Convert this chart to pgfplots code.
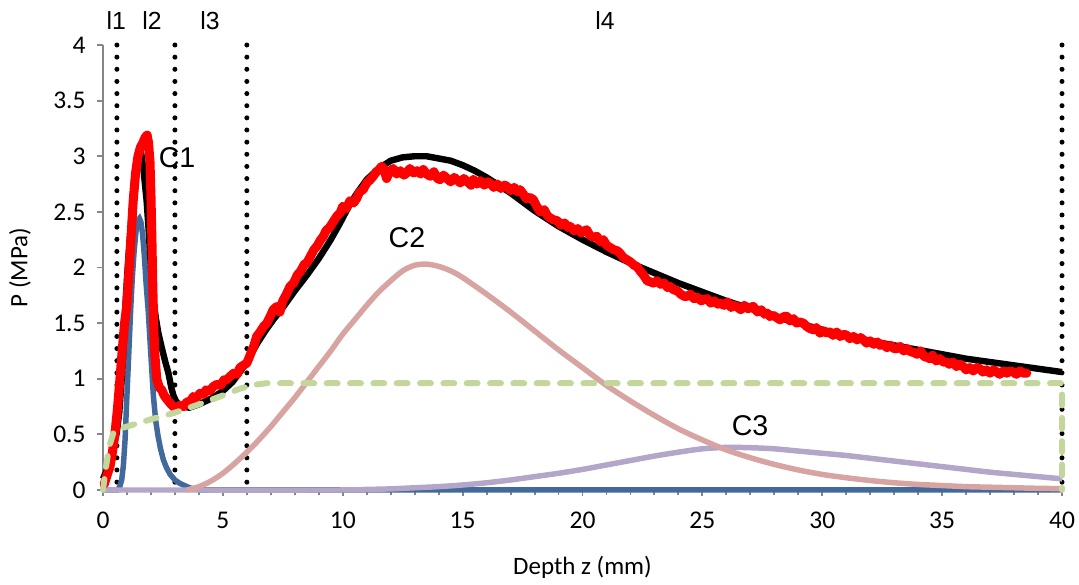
\documentclass[border=0pt]{standalone}
\usepackage{fontspec}
\setmainfont{Carlito}
\newfontfamily\arial{Liberation Sans}
\usepackage{pgfplots}
\pgfplotsset{compat=1.18}
\usetikzlibrary{calc}
\definecolor{axgray}{HTML}{868686}
\definecolor{cblue}{HTML}{41699C}
\definecolor{cpink}{HTML}{D7A4A2}
\definecolor{cpurple}{HTML}{B3A6C8}
\definecolor{cgreen}{HTML}{C3D69B}
\definecolor{cred}{HTML}{FF0000}
\begin{document}
\begin{tikzpicture}
\begin{axis}[name=ax, scale only axis, width=402.8pt, height=186.9pt,
  xmin=0, xmax=40, ymin=0, ymax=4,
  axis x line*=bottom, axis y line*=left,
  axis line style={-, draw=axgray, line width=0.8pt},
  xtick={0,5,...,40}, ytick={0,0.5,...,4}, minor x tick num=4,
  tick align=outside, major tick length=2.6pt, minor tick length=2pt,
  tick style={axgray, line width=0.8pt},
  ticklabel style={font=\fontsize{10.7}{12}\selectfont},
  xticklabel style={yshift=-3.2pt},
  yticklabel style={/pgf/number format/fixed, xshift=-1.2pt},
  /pgf/number format/assume math mode=true,
  xlabel={Depth z (mm)}, ylabel={P (MPa)},
  label style={font=\fontsize{10.5}{12}\selectfont},
  xlabel style={at={(axis description cs:0.5,-0.1728)}, anchor=center},
  ylabel style={at={(axis description cs:-0.0866,0.5)}, anchor=center},
  clip=false]
% dotted boundaries
\addplot[black, line width=2.1pt, line cap=round, dash pattern=on 0pt off 5.1pt] coordinates {(0.58,4) (0.58,0)};
\addplot[black, line width=2.1pt, line cap=round, dash pattern=on 0pt off 5.1pt] coordinates {(3.0,4) (3.0,0)};
\addplot[black, line width=2.1pt, line cap=round, dash pattern=on 0pt off 5.1pt] coordinates {(6.0,4) (6.0,0)};
\addplot[black, line width=2.1pt, line cap=round, dash pattern=on 0pt off 5.1pt] coordinates {(40,4) (40,0)};
% C1
\addplot[cblue, line width=2.3pt] coordinates {(0,0) (0.6,0) (0.7,0.03) (0.78,0.09) (0.85,0.22) (0.92,0.45) (0.99,0.81) (1.06,1.15) (1.15,1.6) (1.22,1.9) (1.3,2.15) (1.38,2.33) (1.45,2.42) (1.52,2.44) (1.58,2.41) (1.65,2.3) (1.72,2.12) (1.8,1.85) (1.89,1.6) (2.0,1.2) (2.1,0.85) (2.2,0.62) (2.3,0.48) (2.4,0.37) (2.52,0.27) (2.65,0.2) (2.8,0.14) (3.0,0.09) (3.2,0.06) (3.4,0.04) (3.6,0.02) (3.8,0.01) (4.1,0) (40,0)};
% C3
\addplot[cpurple, line width=2.3pt, smooth] coordinates {(0,0) (10,0) (11,0.005) (12,0.01) (13,0.02) (14,0.03) (15,0.045) (16,0.065) (17,0.09) (18,0.12) (19,0.15) (20,0.185) (21,0.225) (22,0.265) (23,0.305) (24,0.34) (25,0.37) (26,0.383) (27,0.38) (28,0.37) (29,0.35) (30,0.33) (31,0.31) (32,0.285) (33,0.26) (34,0.235) (35,0.21) (36,0.185) (37,0.16) (38,0.14) (39,0.12) (40,0.1)};
% C2
\addplot[cpink, line width=2.3pt, smooth] coordinates {(3.5,0) (4,0.03) (4.5,0.08) (5,0.15) (5.5,0.24) (6,0.34) (6.5,0.45) (7,0.57) (7.5,0.7) (8,0.83) (8.5,0.97) (9,1.11) (9.5,1.25) (10,1.4) (10.5,1.53) (11,1.66) (11.5,1.78) (12,1.88) (12.5,1.97) (13,2.02) (13.5,2.03) (14,2.01) (14.5,1.97) (15,1.91) (16,1.76) (17,1.6) (18,1.43) (19,1.26) (20,1.1) (21,0.94) (22,0.8) (23,0.67) (24,0.55) (25,0.45) (26,0.36) (27,0.29) (28,0.23) (29,0.18) (30,0.14) (31,0.11) (32,0.085) (33,0.065) (34,0.05) (35,0.04) (36,0.03) (37,0.025) (38,0.02) (39,0.015) (40,0.012)};
% total fit
\addplot[black, line width=2.7pt, line join=round] coordinates {(0,0.1) (0.2,0.2) (0.4,0.37) (0.57,0.51) (0.68,0.7) (0.78,1.0) (0.86,1.3) (0.92,1.6) (1.0,1.9) (1.08,2.15) (1.2,2.5) (1.3,2.78) (1.4,2.97) (1.48,3.04) (1.54,3.05) (1.6,3.02) (1.68,2.9) (1.75,2.75) (1.82,2.6) (1.9,2.35) (2.0,2.0) (2.1,1.72) (2.2,1.55) (2.31,1.41) (2.45,1.28) (2.6,1.15) (2.73,1.05) (2.85,0.92) (2.95,0.84) (3.07,0.79) (3.3,0.75) (3.6,0.74) (4.0,0.77) (4.5,0.82) (5.0,0.89) (5.4,0.97) (5.71,1.06) (6.0,1.15) (6.41,1.31) (6.8,1.44) (7.1,1.53) (7.5,1.64) (8.0,1.79) (8.5,1.93) (9.0,2.08) (9.5,2.25) (9.89,2.4) (10.3,2.57) (10.6,2.67) (11.0,2.79) (11.5,2.89) (12.0,2.96) (12.5,2.99) (13.0,3.0) (13.5,3.0) (14.0,2.98) (14.5,2.96) (15.0,2.92) (15.5,2.87) (16.0,2.81) (16.5,2.74) (17.0,2.67) (17.5,2.59) (18.0,2.51) (18.5,2.44) (19.0,2.37) (19.5,2.31) (20.0,2.25) (21.0,2.14) (22.0,2.04) (23.0,1.95) (24.0,1.86) (25.0,1.78) (26.0,1.7) (27.0,1.63) (28.0,1.56) (29.0,1.5) (30.0,1.44) (31.0,1.39) (32.0,1.34) (33.0,1.3) (34.0,1.26) (35.0,1.22) (36.0,1.18) (37.0,1.15) (38.0,1.12) (39.0,1.09) (40.0,1.06)};
% measured
\addplot[cred, line width=3.8pt, line join=round, line cap=round] coordinates {(0.05,0.05) (0.15,0.12) (0.29,0.21) (0.4,0.35) (0.5,0.51) (0.6,0.72) (0.7,0.98) (0.8,1.25) (0.9,1.5) (0.99,1.65) (1.05,1.85) (1.15,2.2) (1.26,2.6) (1.36,2.85) (1.46,3.0) (1.56,3.08) (1.66,3.12) (1.76,3.17) (1.84,3.19) (1.9,3.12) (1.96,2.95) (2.0,2.65) (2.04,2.25) (2.08,1.8) (2.12,1.45) (2.17,1.2) (2.24,1.0) (2.35,0.92) (2.45,0.9) (2.55,0.85) (2.65,0.82) (2.8,0.78) (2.93,0.75) (3.07,0.73) (3.2,0.76) (3.35,0.75) (3.5,0.79) (3.65,0.8) (3.77,0.84) (3.9,0.83) (4.05,0.87) (4.2,0.86) (4.3,0.9) (4.45,0.89) (4.6,0.93) (4.75,0.95) (4.9,0.94) (5.05,0.99) (5.16,0.99) (5.3,1.02) (5.45,1.05) (5.6,1.04) (5.71,1.1) (5.85,1.12) (6.0,1.14) (6.15,1.22) (6.3,1.3) (6.41,1.38) (6.55,1.42) (6.7,1.47) (6.83,1.5) (6.95,1.55) (7.1,1.62) (7.25,1.65) (7.38,1.6) (7.5,1.7) (7.65,1.76) (7.8,1.83) (7.95,1.86) (8.1,1.93) (8.25,1.97) (8.4,2.03) (8.5,2.04) (8.65,2.1) (8.8,2.16) (8.95,2.2) (9.05,2.24) (9.19,2.28) (9.3,2.33) (9.45,2.36) (9.6,2.41) (9.75,2.46) (9.89,2.49) (10.0,2.55) (10.15,2.53) (10.3,2.6) (10.45,2.58) (10.58,2.62) (10.7,2.68) (10.85,2.7) (11.0,2.76) (11.15,2.79) (11.27,2.82) (11.4,2.86) (11.52,2.88) (11.62,2.91) (11.72,2.88) (11.83,2.8) (11.95,2.86) (12.1,2.89) (12.25,2.84) (12.4,2.87) (12.55,2.83) (12.67,2.85) (12.8,2.89) (12.95,2.85) (13.1,2.87) (13.25,2.84) (13.36,2.88) (13.5,2.84) (13.65,2.82) (13.8,2.86) (13.95,2.8) (14.06,2.79) (14.2,2.83) (14.35,2.8) (14.5,2.77) (14.65,2.81) (14.75,2.79) (14.9,2.76) (15.05,2.8) (15.2,2.77) (15.35,2.74) (15.45,2.79) (15.6,2.75) (15.75,2.78) (15.9,2.74) (16.05,2.77) (16.14,2.76) (16.3,2.72) (16.45,2.75) (16.6,2.71) (16.75,2.74) (16.84,2.73) (17.0,2.69) (17.15,2.72) (17.3,2.68) (17.39,2.70) (17.53,2.66) (17.65,2.62) (17.8,2.63) (17.95,2.61) (18.09,2.55) (18.23,2.5) (18.4,2.52) (18.55,2.46) (18.7,2.44) (18.78,2.43) (18.95,2.42) (19.1,2.38) (19.25,2.4) (19.4,2.36) (19.48,2.37) (19.65,2.33) (19.8,2.35) (19.95,2.31) (20.17,2.34) (20.3,2.29) (20.45,2.27) (20.6,2.28) (20.75,2.23) (20.87,2.25) (21.0,2.2) (21.15,2.18) (21.3,2.16) (21.45,2.15) (21.56,2.13) (21.7,2.09) (21.85,2.07) (22.0,2.05) (22.15,2.02) (22.26,2.01) (22.4,1.97) (22.55,1.93) (22.7,1.88) (22.85,1.87) (22.95,1.86) (23.1,1.88) (23.25,1.85) (23.4,1.86) (23.55,1.82) (23.65,1.83) (23.8,1.8) (23.95,1.79) (24.1,1.76) (24.25,1.74) (24.35,1.74) (24.5,1.76) (24.65,1.72) (24.8,1.73) (24.95,1.7) (25.04,1.71) (25.2,1.72) (25.35,1.68) (25.5,1.7) (25.65,1.67) (25.74,1.68) (25.9,1.66) (26.05,1.69) (26.2,1.64) (26.3,1.66) (26.43,1.65) (26.6,1.62) (26.75,1.66) (26.9,1.63) (27.0,1.64) (27.12,1.65) (27.3,1.6) (27.45,1.62) (27.6,1.58) (27.7,1.59) (27.82,1.56) (27.95,1.57) (28.1,1.55) (28.24,1.53) (28.4,1.56) (28.52,1.56) (28.65,1.52) (28.8,1.54) (28.93,1.5) (29.05,1.51) (29.21,1.5) (29.35,1.47) (29.5,1.45) (29.63,1.44) (29.75,1.46) (29.91,1.41) (30.05,1.43) (30.2,1.41) (30.32,1.42) (30.45,1.39) (30.6,1.42) (30.75,1.38) (30.9,1.4) (31.02,1.39) (31.15,1.36) (31.3,1.38) (31.45,1.35) (31.6,1.37) (31.71,1.35) (31.85,1.32) (32.0,1.34) (32.15,1.31) (32.3,1.33) (32.41,1.3) (32.55,1.31) (32.7,1.28) (32.85,1.3) (33.0,1.27) (33.1,1.27) (33.25,1.29) (33.4,1.25) (33.55,1.27) (33.7,1.24) (33.8,1.24) (33.95,1.22) (34.1,1.25) (34.25,1.2) (34.4,1.19) (34.49,1.18) (34.6,1.21) (34.75,1.16) (34.9,1.18) (35.05,1.15) (35.19,1.15) (35.3,1.13) (35.45,1.15) (35.6,1.11) (35.75,1.13) (35.88,1.11) (36.0,1.08) (36.15,1.1) (36.3,1.07) (36.45,1.1) (36.58,1.09) (36.7,1.06) (36.85,1.08) (37.0,1.05) (37.15,1.08) (37.28,1.06) (37.4,1.04) (37.55,1.07) (37.7,1.05) (37.85,1.07) (37.97,1.06) (38.1,1.04) (38.25,1.07) (38.4,1.05) (38.53,1.05)};
% baseline
\addplot[cgreen, line width=2.5pt, line cap=round, dash pattern=on 4.6pt off 5.2pt] coordinates {(0,0) (0.1,0.17) (0.2,0.31) (0.3,0.42) (0.43,0.51) (0.6,0.545) (1,0.57) (2,0.635) (2.93,0.69) (4,0.77) (5,0.85) (5.7,0.91) (6.3,0.945) (6.83,0.96) (40,0.96) (40,0)};
% labels
\node[font=\arial\fontsize{10.4}{12}\selectfont] at (axis cs:0.55,4.22) {l1};
\node[font=\arial\fontsize{10.4}{12}\selectfont] at (axis cs:2.04,4.22) {l2};
\node[font=\arial\fontsize{10.4}{12}\selectfont] at (axis cs:4.46,4.22) {l3};
\node[font=\arial\fontsize{10.4}{12}\selectfont] at (axis cs:20.94,4.22) {l4};
\node[font=\arial\fontsize{12}{14}\selectfont] at (axis cs:3.09,2.99) {C1};
\node[font=\arial\fontsize{12}{14}\selectfont] at (axis cs:12.68,2.27) {C2};
\node[font=\arial\fontsize{12}{14}\selectfont] at (axis cs:26.99,0.58) {C3};
\end{axis}
\pgfresetboundingbox
\path ($(ax.south west)+(-43.26pt,-39.9pt)$) rectangle ($(ax.north east)+(7.14pt,18.9pt)$);
\end{tikzpicture}
\end{document}
